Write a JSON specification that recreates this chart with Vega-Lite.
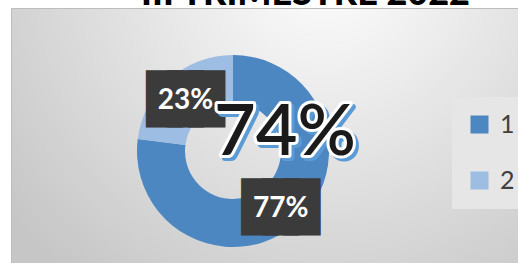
{
  "$schema": "https://vega.github.io/schema/vega-lite/v6.json",
  "autosize": "none",
  "width": 507,
  "height": 255,
  "padding": {"left": 11, "top": 8, "right": 0, "bottom": 0},
  "background": "white",
  "view": {
    "fill": {"gradient": "radial", "x1": 0.62, "y1": 0.15, "r1": 0, "x2": 0.62, "y2": 0.15, "r2": 0.8,
      "stops": [{"offset": 0, "color": "#ffffff"}, {"offset": 1, "color": "#c6c6c6"}]},
    "stroke": "#bdbdbd"
  },
  "datasets": {
    "series": [
      {"serie": "1", "valor": 77, "etiqueta": "77%"},
      {"serie": "2", "valor": 23, "etiqueta": "23%"}
    ],
    "total": [{"total": "74%"}],
    "titulo": [{"titulo": "III TRIMESTRE 2022"}]
  },
  "data": {"name": "series"},
  "layer": [
    {
      "data": {"name": "titulo"},
      "mark": {"type": "text", "x": {"expr": "width/2 + 41"}, "y": 0, "dy": -3, "font": "Lato", "fontSize": 36, "fontWeight": 900, "color": "#000000", "align": "center", "baseline": "alphabetic"},
      "encoding": {"text": {"field": "titulo"}}
    },
    {
      "mark": {"type": "arc", "x": {"expr": "width/2 - 31.5"}, "y": {"expr": "height/2 + 15.5"}, "outerRadius": 96, "innerRadius": 48},
      "encoding": {
        "theta": {"field": "valor", "type": "quantitative", "stack": true},
        "order": {"field": "serie", "type": "ordinal", "sort": "ascending"},
        "color": {"field": "serie", "type": "nominal", "scale": {"domain": ["1", "2"], "range": ["#4C87C2", "#9DBDE3"]},
          "legend": {"orient": "none", "legendX": 441, "legendY": 89, "title": null, "padding": 15, "fillColor": "#e6e6e6",
            "symbolType": "square", "symbolSize": 324, "symbolStrokeWidth": 0, "labelFont": "Lato", "labelFontSize": 25,
            "labelColor": "#404040", "labelOffset": 8, "rowPadding": 30}}
      }
    },
    {
      "mark": {"type": "text", "x": {"expr": "width/2 - 31.5"}, "y": {"expr": "height/2 + 15.5"}, "radius": 72, "dy": 3,
        "font": "DejaVu Sans Mono", "fontSize": 35, "text": "███", "color": "#3b3b3b", "stroke": "#3b3b3b", "strokeWidth": 15.6, "strokeJoin": "miter", "align": "center", "baseline": "middle"},
      "encoding": {
        "theta": {"field": "valor", "type": "quantitative", "stack": true},
        "order": {"field": "serie", "type": "ordinal", "sort": "ascending"}
      }
    },
    {
      "mark": {"type": "text", "x": {"expr": "width/2 - 31.5"}, "y": {"expr": "height/2 + 15.5"}, "radius": 72, "dy": 4,
        "font": "Lato", "fontSize": 28, "fontWeight": "bold", "color": "#ffffff", "align": "center", "baseline": "middle"},
      "encoding": {
        "theta": {"field": "valor", "type": "quantitative", "stack": true},
        "order": {"field": "serie", "type": "ordinal", "sort": "ascending"},
        "text": {"field": "etiqueta"}
      }
    },
    {
      "data": {"name": "total"},
      "mark": {"type": "text", "x": {"expr": "width/2 - 31.5"}, "y": {"expr": "height/2 + 15.5"}, "dx": 55, "dy": -15,
        "font": "Lato", "fontSize": 72, "fontWeight": 600, "color": "#5B9BD5", "stroke": "#5B9BD5", "strokeWidth": 6, "strokeJoin": "round", "align": "center", "baseline": "middle"},
      "encoding": {"text": {"field": "total"}}
    },
    {
      "data": {"name": "total"},
      "mark": {"type": "text", "x": {"expr": "width/2 - 31.5"}, "y": {"expr": "height/2 + 15.5"}, "dx": 52, "dy": -18,
        "font": "Lato", "fontSize": 72, "fontWeight": 600, "color": "#ffffff", "stroke": "#ffffff", "strokeWidth": 6, "strokeJoin": "round", "align": "center", "baseline": "middle"},
      "encoding": {"text": {"field": "total"}}
    },
    {
      "data": {"name": "total"},
      "mark": {"type": "text", "x": {"expr": "width/2 - 31.5"}, "y": {"expr": "height/2 + 15.5"}, "dx": 52, "dy": -18,
        "font": "Lato", "fontSize": 72, "fontWeight": 600, "color": "#1a1a1a", "align": "center", "baseline": "middle"},
      "encoding": {"text": {"field": "total"}}
    }
  ]
}
